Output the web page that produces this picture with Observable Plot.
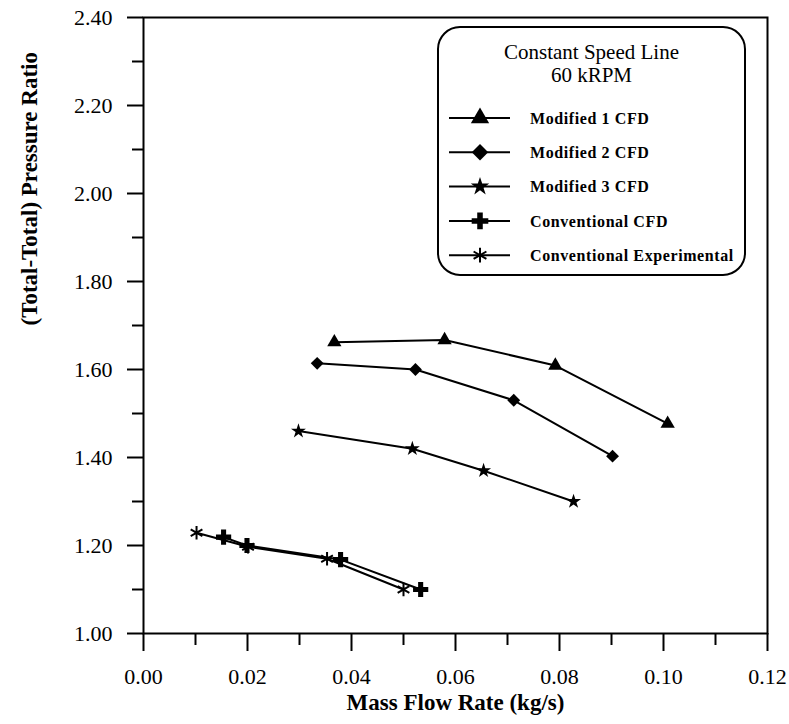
<!DOCTYPE html>
<html><head><meta charset="utf-8">
<script src="https://cdn.jsdelivr.net/npm/d3@7"></script>
<script src="https://cdn.jsdelivr.net/npm/@observablehq/plot@0.6"></script>
<style>
body{margin:0;background:#fff;}
#wrap{position:relative;width:789px;height:724px;}
#wrap svg{position:absolute;left:0;top:0;}
</style>
</head><body><div id="wrap"></div>
<script>
// ---- data ----
const seriesNames = ["Modified 1 CFD", "Modified 2 CFD", "Modified 3 CFD", "Conventional CFD", "Conventional Experimental"];
const seriesSymbols = ["triangle", "diamond2", "star", "cross", "asterisk"];

const mod1X = [0.0367, 0.0579, 0.0792, 0.1008];
const mod1Y = [1.662, 1.667, 1.609, 1.477];
const mod2X = [0.0334, 0.0523, 0.0712, 0.0902];
const mod2Y = [1.614, 1.600, 1.530, 1.403];
const mod3X = [0.0298, 0.0517, 0.0654, 0.0827];
const mod3Y = [1.460, 1.420, 1.370, 1.300];
const convCfdX = [0.0154, 0.0199, 0.0379, 0.0533];
const convCfdY = [1.219, 1.200, 1.168, 1.100];
const convExpX = [0.0102, 0.0201, 0.0353, 0.0500];
const convExpY = [1.229, 1.197, 1.170, 1.100];

const xMajorTicks = [0, 0.02, 0.04, 0.06, 0.08, 0.10, 0.12];
const xMinorTicks = [0.01, 0.03, 0.05, 0.07, 0.09, 0.11];
const yMajorTicks = [1.0, 1.2, 1.4, 1.6, 1.8, 2.0, 2.2, 2.4];
const yMinorTicks = [1.1, 1.3, 1.5, 1.7, 1.9, 2.1, 2.3];

const xTitle = "Mass Flow Rate (kg/s)";
const yTitle = "(Total-Total) Pressure Ratio";
const legendTitle = ["Constant Speed Line", "60 kRPM"];

// ---- build rows ----
const allX = [mod1X, mod2X, mod3X, convCfdX, convExpX];
const allY = [mod1Y, mod2Y, mod3Y, convCfdY, convExpY];
const rows = [];
seriesNames.forEach((name, i) => {
  allX[i].forEach((x, j) => rows.push({series: name, x, y: allY[i][j]}));
});

const FONT = "Liberation Serif, Times New Roman, serif";
const marks = [];
marks.push(Plot.axisX({ticks: xMinorTicks, tickSize: 12, tickFormat: () => "", strokeWidth: 2, label: null}));
marks.push(Plot.axisY({ticks: yMinorTicks, tickSize: 11, tickFormat: () => "", strokeWidth: 2, label: null}));
marks.push(Plot.axisX({ticks: xMajorTicks, tickSize: 18, tickPadding: 17, tickFormat: d3.format(".2f"), strokeWidth: 2, fontSize: 22, fontFamily: FONT, label: null}));
marks.push(Plot.axisY({ticks: yMajorTicks, tickSize: 16, tickPadding: 15, tickFormat: d3.format(".2f"), strokeWidth: 2, fontSize: 22, fontFamily: FONT, label: null}));
marks.push(Plot.frame({stroke: "black", strokeWidth: 2}));

const dataR = {triangle: 5.3, diamond2: 5.8, star: 4.7, cross: 6.4, asterisk: 6.4};
seriesNames.forEach((name, i) => {
  const data = rows.filter(d => d.series === name);
  marks.push(Plot.line(data, {x: "x", y: "y", stroke: "black", strokeWidth: 2}));
  const sym = seriesSymbols[i];
  if (sym === "asterisk") {
    marks.push(Plot.dot(data, {x: "x", y: "y", symbol: sym, r: dataR[sym], stroke: "black", strokeWidth: 2, fill: "none"}));
  } else {
    marks.push(Plot.dot(data, {x: "x", y: "y", symbol: sym, r: dataR[sym], fill: "black", stroke: "none"}));
  }
});

marks.push(Plot.text([xTitle], {text: d => d, frameAnchor: "bottom", dy: 76, fontSize: 23, fontWeight: "bold", fontFamily: FONT}));
marks.push(Plot.text([yTitle], {text: d => d, frameAnchor: "left", dx: -114, rotate: -90, fontSize: 23, fontWeight: "bold", fontFamily: FONT}));

const chart = Plot.plot({
  width: 789, height: 724,
  marginLeft: 143, marginRight: 22, marginTop: 17, marginBottom: 91,
  x: {domain: [0, 0.12]},
  y: {domain: [1.0, 2.4]},
  style: {fontFamily: FONT, fontSize: "22px", color: "black", background: "white"},
  marks
});
document.getElementById("wrap").appendChild(chart);

// ---- legend overlay ----
const svg = d3.select("#wrap").append("svg").attr("width", 789).attr("height", 724).style("pointer-events", "none");
const box = {x: 438, y: 27, w: 307, h: 248};
svg.append("rect").attr("x", box.x).attr("y", box.y).attr("width", box.w).attr("height", box.h)
  .attr("rx", 22).attr("ry", 22).attr("fill", "white").attr("stroke", "black").attr("stroke-width", 2);
legendTitle.forEach((t, i) => {
  svg.append("text").attr("x", box.x + box.w / 2).attr("y", 52 + i * 23).attr("dy", "0.35em")
    .attr("text-anchor", "middle").attr("font-family", FONT).attr("font-size", 21).text(t);
});
const symMap = {triangle: d3.symbolTriangle, diamond2: d3.symbolDiamond2, star: d3.symbolStar, cross: d3.symbolCross, asterisk: d3.symbolAsterisk};
const legR = {triangle: 6.8, diamond2: 7.4, star: 5.8, cross: 7, asterisk: 7};
seriesNames.forEach((name, i) => {
  const cy = 118 + i * 34.3;
  svg.append("line").attr("x1", 449).attr("x2", 510).attr("y1", cy).attr("y2", cy).attr("stroke", "black").attr("stroke-width", 2);
  const sym = seriesSymbols[i];
  const p = svg.append("path").attr("transform", `translate(480,${cy})`)
    .attr("d", d3.symbol(symMap[sym], Math.PI * legR[sym] * legR[sym])());
  if (sym === "asterisk") p.attr("fill", "none").attr("stroke", "black").attr("stroke-width", 2);
  else p.attr("fill", "black");
  svg.append("text").attr("x", 530).attr("y", cy).attr("dy", "0.35em").attr("font-family", FONT)
    .attr("font-size", 16).attr("font-weight", "bold").attr("letter-spacing", "0.6px").text(name);
});
</script>
</body></html>
